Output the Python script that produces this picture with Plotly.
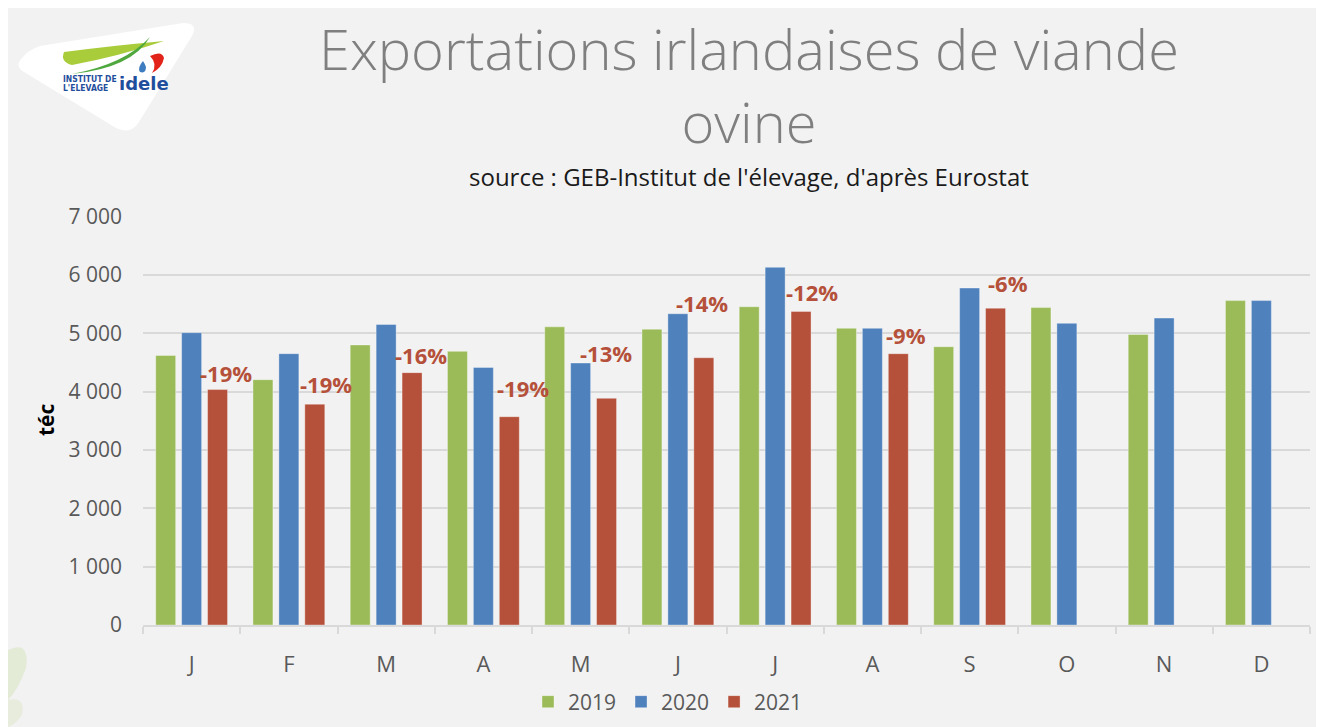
import plotly.graph_objects as go

# ---- data ----
month_keys = ["jan", "feb", "mar", "apr", "may", "jun", "jul", "aug", "sep", "oct", "nov", "dec"]
month_labels = ["J", "F", "M", "A", "M", "J", "J", "A", "S", "O", "N", "D"]
v2019 = [4620, 4205, 4800, 4690, 5110, 5070, 5455, 5085, 4770, 5440, 4980, 5560]
v2020 = [5010, 4650, 5150, 4415, 4490, 5335, 6130, 5085, 5775, 5170, 5260, 5560]
v2021 = [4035, 3785, 4325, 3570, 3885, 4580, 5375, 4650, 5430, None, None, None]
pct_labels = ["-19%", "-19%", "-16%", "-19%", "-13%", "-14%", "-12%", "-9%", "-6%"]
years = ["2019", "2020", "2021"]
y_ticks = [0, 1000, 2000, 3000, 4000, 5000, 6000, 7000]
y_ticktext = ["0", "1 000", "2 000", "3 000", "4 000", "5 000", "6 000", "7 000"]

# ---- style ----
colors = ["#9BBB59", "#4F81BD", "#B5503A"]
label_dx = [8, 11, 9, 14, -1, -2, 11, 8, 12]      # px offset from red bar centre
label_dy = [17, 20, 18, 29, 45, 55, 19, 19, 25]   # px above red bar top

OFF = 8                      # browser body margin (screen px)
SW, SH = 1324, 727           # screen size
W, H = SW - OFF, SH - OFF    # figure size
L, R, T, B = 143, 1310, 216, 625   # plot area in screen px
FONT = "Open Sans"


def px2x(px):
    return (px - L) / (R - L)


def py2y(py):
    return (B - py) / (B - T)


fig = go.Figure()
for name, vals, col in zip(years, [v2019, v2020, v2021], colors):
    fig.add_trace(go.Bar(
        x=month_keys, y=vals, name=name,
        marker=dict(color=col, line=dict(color="rgba(255,255,255,0.35)", width=1)),
        hoverinfo="skip",
    ))

cat_px = (R - L) / len(month_keys)
slot_px = cat_px * (1 - 0.2) / 3

annotations = []
for i, txt in enumerate(pct_labels):
    annotations.append(dict(
        x=month_keys[i], y=v2021[i], xref="x", yref="y",
        text=txt, showarrow=False,
        xshift=slot_px + label_dx[i], yshift=label_dy[i],
        yanchor="middle", xanchor="center",
        font=dict(family=FONT, size=22, color="#B5503A", weight="bold"),
    ))

# title (two lines)
annotations.append(dict(x=px2x(749), y=py2y(85), xref="paper", yref="paper",
                        text="Exportations irlandaises de viande<br>ovine", showarrow=False,
                        xanchor="center", yanchor="middle", align="center",
                        font=dict(family=FONT, size=56, color="#7F7F7F", weight=300)))
annotations.append(dict(x=px2x(749), y=py2y(176.5), xref="paper", yref="paper",
                        text="source : GEB-Institut de l'élevage, d'après Eurostat", showarrow=False,
                        xanchor="center", yanchor="middle",
                        font=dict(family=FONT, size=24, color="#1A1A1A")))
annotations.append(dict(x=px2x(46), y=py2y(420), xref="paper", yref="paper",
                        text="<b>téc</b>", showarrow=False, textangle=-90,
                        xanchor="center", yanchor="middle",
                        font=dict(family=FONT, size=21, color="#000000")))
# logo text
annotations.append(dict(x=px2x(61), y=py2y(79), xref="paper", yref="paper",
                        text="<b>INSTITUT DE</b>", showarrow=False,
                        xanchor="left", yanchor="middle",
                        font=dict(family="DejaVu Sans Condensed", size=8.5, color="#1F4E9C")))
annotations.append(dict(x=px2x(61), y=py2y(88), xref="paper", yref="paper",
                        text="<b>L'ELEVAGE</b>", showarrow=False,
                        xanchor="left", yanchor="middle",
                        font=dict(family="DejaVu Sans Condensed", size=8.5, color="#1F4E9C")))
annotations.append(dict(x=px2x(117), y=py2y(83), xref="paper", yref="paper",
                        text="<b>idele</b>", showarrow=False,
                        xanchor="left", yanchor="middle",
                        font=dict(family="DejaVu Sans", size=18, color="#1F4E9C")))


def pixshape(path, fill, layer="below", opacity=1):
    return dict(type="path", xref="paper", yref="paper",
                xsizemode="pixel", ysizemode="pixel",
                xanchor=px2x(0), yanchor=py2y(0),
                path=path, fillcolor=fill, opacity=opacity,
                line=dict(color=fill, width=0), layer=layer)


def path_str(cmds):
    out = []
    for c in cmds:
        if isinstance(c, str):
            out.append(c)
        else:
            out.append(f"{c[0]},{-c[1]}")
    return " ".join(out)


shapes = []
# white logo plate
shapes.append(pixshape(path_str([
    "M", (22, 58), "Q", (14, 66), (24, 72),
    "L", (116, 128), "Q", (131, 135), (139, 122),
    "L", (192, 36), "Q", (199, 23), (183, 23),
    "L", (40, 46), "Q", (28, 50), (22, 58), "Z"]), "#FFFFFF"))
# light green swoosh
shapes.append(pixshape(path_str([
    "M", (64, 52), "Q", (110, 46), (164, 41), "Q", (120, 56), (72, 65),
    "Q", (60, 62), (64, 52), "Z"]), "#A8CC3A", layer="above"))
# dark green diagonal
shapes.append(pixshape(path_str([
    "M", (72, 74), "Q", (125, 64), (150, 37), "Q", (132, 68), (72, 74), "Z"]),
    "#4FA83D", layer="above"))
# red mark
shapes.append(pixshape(path_str([
    "M", (150, 56), "Q", (162, 50), (164, 58), "Q", (162, 68), (152, 73),
    "Q", (158, 64), (150, 56), "Z"]), "#E2231A", layer="above"))
# blue drop
shapes.append(pixshape(path_str([
    "M", (143, 61), "Q", (137, 68), (140, 72), "Q", (146, 74), (146, 67),
    "Q", (145, 64), (143, 61), "Z"]), "#3E7CC0", layer="above"))
# faint leaves, bottom-left decoration
shapes.append(pixshape(path_str([
    "M", (8, 650), "Q", (30, 640), (26, 668), "Q", (18, 690), (8, 700), "Z"]),
    "#C9DDA0", opacity=0.35))
shapes.append(pixshape(path_str([
    "M", (8, 700), "Q", (26, 696), (22, 715), "Q", (16, 724), (8, 727), "Z"]),
    "#C9DDA0", opacity=0.25))

fig.update_layout(
    width=W, height=H,
    margin=dict(l=L - OFF, r=SW - R, t=T - OFF, b=SH - B, pad=0, autoexpand=False),
    paper_bgcolor="#F2F2F2", plot_bgcolor="#F2F2F2",
    barmode="group", bargap=0.2, bargroupgap=0.23,
    font=dict(family=FONT, color="#595959"),
    showlegend=True,
    legend=dict(orientation="h", x=px2x(668), xanchor="center",
                y=py2y(702), yanchor="middle",
                font=dict(family=FONT, size=21, color="#595959"),
                bgcolor="rgba(0,0,0,0)", traceorder="normal", itemwidth=30),
    annotations=annotations, shapes=shapes,
)
fig.update_xaxes(
    type="category", tickvals=month_keys, ticktext=month_labels,
    showgrid=False, showline=True, linecolor="#D9D9D9", linewidth=1.5,
    ticks="outside", tickson="boundaries", ticklen=7, tickcolor="#D9D9D9", tickwidth=1.5,
    tickfont=dict(family=FONT, size=22, color="#595959"), ticklabelstandoff=19,
    fixedrange=True, automargin=False,
)
fig.update_yaxes(
    range=[0, 7010], tickvals=y_ticks, ticktext=y_ticktext,
    showgrid=True, gridcolor="#D9D9D9", gridwidth=1.5, zeroline=False,
    showline=False, ticks="",
    tickfont=dict(family=FONT, size=21, color="#595959"), ticklabelstandoff=20,
    fixedrange=True, automargin=False,
)

fig.write_html("out.html")
